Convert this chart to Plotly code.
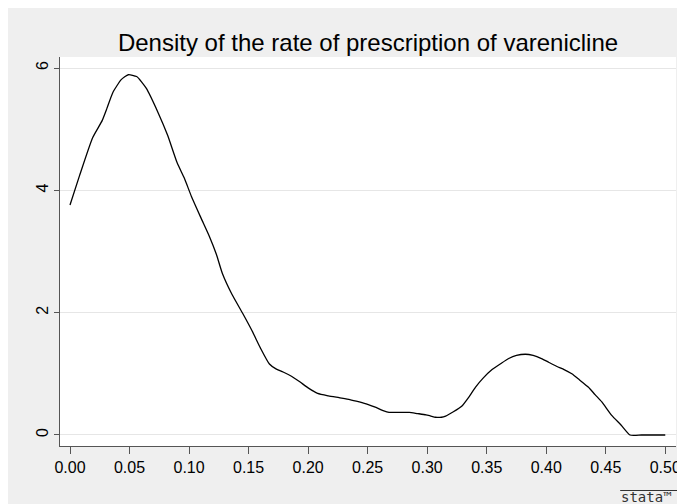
import plotly.graph_objects as go

# Kernel density estimate
rate = [0.0, 0.008, 0.019, 0.027, 0.031, 0.036, 0.043, 0.049, 0.056, 0.064, 0.074,
        0.082, 0.09, 0.096, 0.102, 0.11, 0.117, 0.123, 0.128, 0.136, 0.145,
        0.153, 0.16, 0.1675, 0.173, 0.179, 0.186, 0.193, 0.2, 0.208, 0.217,
        0.226, 0.235, 0.243, 0.25, 0.257, 0.263, 0.268, 0.276, 0.285, 0.292,
        0.299, 0.303, 0.307, 0.312, 0.3155, 0.322, 0.329, 0.335, 0.3405, 0.347,
        0.3545, 0.362, 0.3685, 0.375, 0.3825, 0.389, 0.396, 0.402, 0.409, 0.415,
        0.4215, 0.428, 0.4355, 0.441, 0.4467, 0.455, 0.463, 0.4704, 0.48, 0.49, 0.5]
density = [3.76, 4.24, 4.86, 5.14, 5.34, 5.6, 5.81, 5.89, 5.86, 5.67, 5.27,
           4.9, 4.45, 4.2, 3.9, 3.55, 3.25, 2.95, 2.64, 2.3, 1.99,
           1.7, 1.42, 1.16, 1.08, 1.03, 0.96, 0.87, 0.77, 0.68, 0.64,
           0.61, 0.58, 0.54, 0.5, 0.45, 0.4, 0.37, 0.37, 0.37, 0.35,
           0.33, 0.31, 0.29, 0.29, 0.31, 0.38, 0.47, 0.62, 0.78, 0.93,
           1.07, 1.17, 1.25, 1.3, 1.32, 1.3, 1.25, 1.19, 1.12, 1.07,
           1.0, 0.9, 0.78, 0.66, 0.54, 0.32, 0.16, 0.0, 0.0, 0.0, 0.0]

x_ticks = [0.0, 0.05, 0.10, 0.15, 0.20, 0.25, 0.30, 0.35, 0.40, 0.45, 0.50]
x_tick_labels = ["0.00", "0.05", "0.10", "0.15", "0.20", "0.25", "0.30", "0.35", "0.40", "0.45", "0.50"]
y_ticks = [0, 2, 4, 6]
y_tick_labels = ["0", "2", "4", "6"]

title_text = "Density of the rate of prescription of varenicline"

fig = go.Figure()
fig.add_trace(go.Scatter(
    x=rate, y=density, mode="lines",
    line=dict(color="black", width=1.3, shape="spline", smoothing=0.5),
    showlegend=False, hoverinfo="skip",
))

font_family = "Liberation Sans, Arial, sans-serif"
W, H = 685, 504
L, R, T, B = 52, 15, 49, 66
PW, PH = W - L - R, H - T - B

fig.update_layout(
    width=W, height=H,
    margin=dict(l=L, r=R, t=T, b=B),
    paper_bgcolor="#efefef",
    plot_bgcolor="white",
    font=dict(family=font_family, color="black"),
    title=dict(text=title_text, x=0.5, xref="paper", y=1 - 35 / H,
               yanchor="middle", font=dict(size=24, family=font_family, color="black")),
    xaxis=dict(
        range=[-0.0084, 0.509], tickvals=x_ticks, ticktext=x_tick_labels,
        showgrid=False, zeroline=False, showline=True, linecolor="#555555", linewidth=1.2,
        ticks="outside", ticklen=7, tickcolor="#555555", tickwidth=1,
        tickfont=dict(size=16, family=font_family, color="black"),
    ),
    yaxis=dict(
        range=[-0.18, 6.18], tickvals=y_ticks, ticktext=y_tick_labels,
        showgrid=True, gridcolor="#e6e6e6", gridwidth=1, zeroline=False,
        showline=True, linecolor="#555555", linewidth=1.2,
        ticks="outside", ticklen=5, tickcolor="#555555", tickwidth=1,
        tickangle=-90,
        tickfont=dict(size=16, family=font_family, color="black"),
    ),
    shapes=[
        # overline of the stata mark
        dict(type="line", xref="paper", yref="paper",
             x0=(614 - L) / PW, x1=(684 - L) / PW,
             y0=(PH + T - 482.5) / PH, y1=(PH + T - 482.5) / PH,
             line=dict(color="#333333", width=1.2)),
    ],
    annotations=[
        dict(text="stata™", xref="paper", yref="paper",
             x=(613 - L) / PW, y=(PH + T - 489) / PH, xanchor="left", yanchor="middle",
             showarrow=False, font=dict(size=14, family="DejaVu Sans Mono, monospace", color="#333333")),
    ],
)

fig.write_html("out.html")
